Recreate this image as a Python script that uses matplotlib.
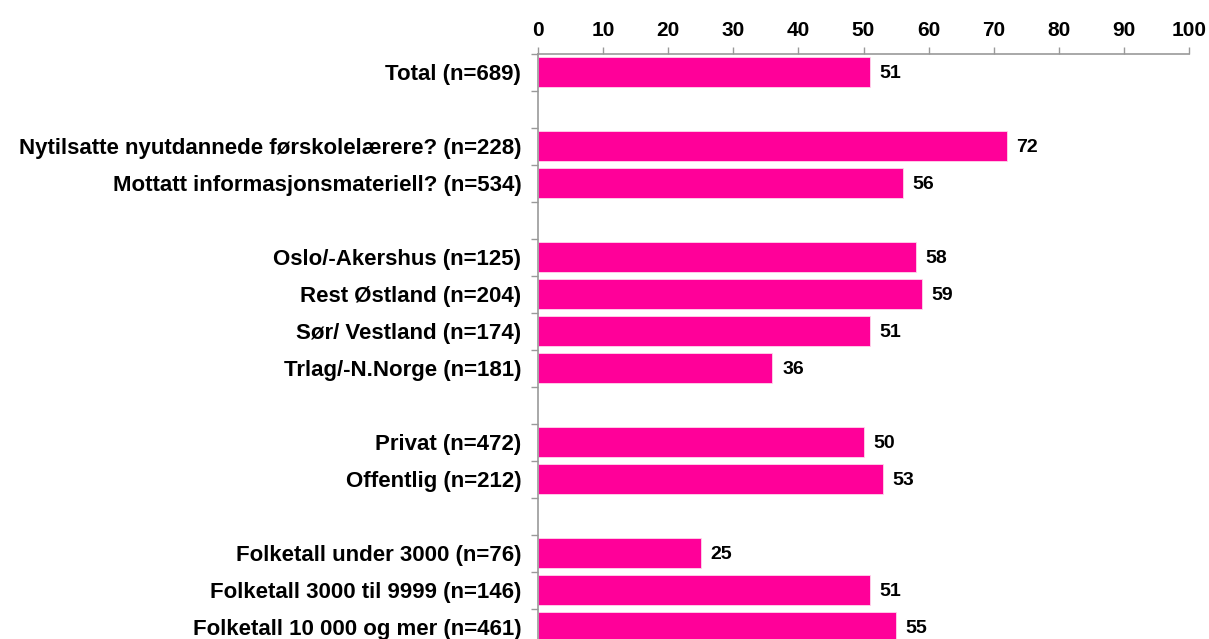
import matplotlib
matplotlib.use("Agg")
import matplotlib.pyplot as plt
from matplotlib.ticker import FixedLocator

plt.rcParams['font.family'] = ['Liberation Sans', 'DejaVu Sans']

categories = [
    "Total (n=689)",
    "",
    "Nytilsatte nyutdannede førskolelærere? (n=228)",
    "Mottatt informasjonsmateriell? (n=534)",
    "",
    "Oslo/-Akershus (n=125)",
    "Rest Østland (n=204)",
    "Sør/ Vestland (n=174)",
    "Trlag/-N.Norge (n=181)",
    "",
    "Privat (n=472)",
    "Offentlig (n=212)",
    "",
    "Folketall under 3000 (n=76)",
    "Folketall 3000 til 9999 (n=146)",
    "Folketall 10 000 og mer (n=461)",
]
values = [51, None, 72, 56, None, 58, 59, 51, 36, None, 50, 53, None, 25, 51, 55]
x_ticks = [0, 10, 20, 30, 40, 50, 60, 70, 80, 90, 100]

bar_color = "#FF0099"
grey = "#999999"

fig = plt.figure(figsize=(12.09, 6.39), dpi=100)
ax = fig.add_axes([538 / 1209, 1 - 645.5 / 639, (1189 - 538) / 1209, (645.5 - 53.5) / 639])

pos = list(range(len(categories)))
for p, v in zip(pos, values):
    if v is None:
        continue
    ax.barh(p, v, height=0.8, color=bar_color, edgecolor="#ffd6ec", linewidth=0.6)
    ax.text(v + 1.5, p + 0.05, f"{v}", va="center", ha="left",
            fontsize=14, fontweight="bold", color="black")

ax.set_xlim(0, 100)
ax.set_ylim(len(categories) - 0.5, -0.5)

ax.xaxis.tick_top()
ax.set_xticks(x_ticks)
ax.set_xticklabels([str(t) for t in x_ticks], fontsize=15, fontweight="bold")
ax.tick_params(axis="x", direction="out", length=5, color=grey, width=1, pad=5)

ax.set_yticks(pos)
ax.set_yticklabels(categories, fontsize=16, fontweight="bold")
ax.tick_params(axis="y", which="major", length=0, pad=12)
ax.yaxis.set_minor_locator(FixedLocator([i - 0.5 for i in range(len(categories) + 1)]))
ax.tick_params(axis="y", which="minor", direction="out", length=5, color=grey, width=1)

for side in ["right", "bottom"]:
    ax.spines[side].set_visible(False)
for side in ["top", "left"]:
    ax.spines[side].set_color(grey)
    ax.spines[side].set_linewidth(1.2)

fig.savefig("out.png", dpi=100)
